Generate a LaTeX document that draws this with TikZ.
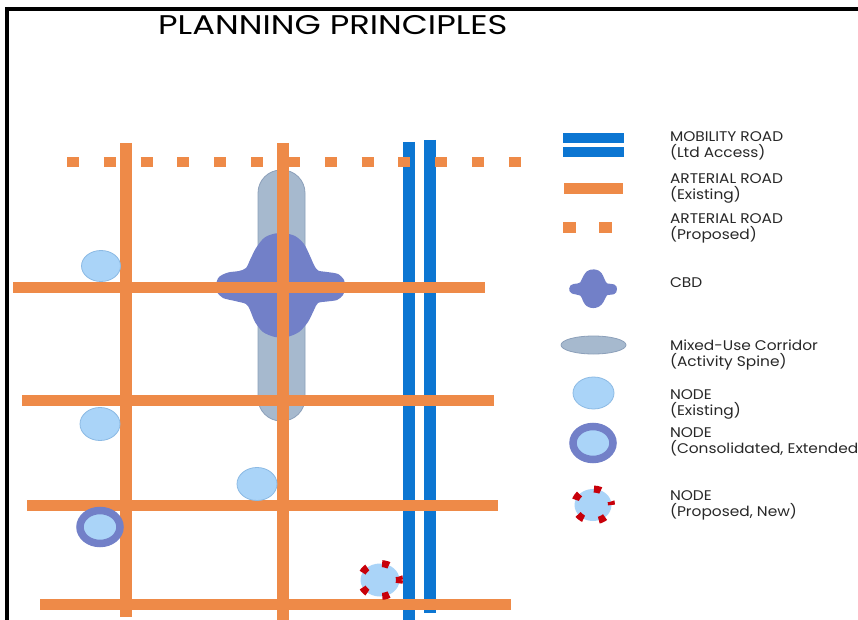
\documentclass[tikz,border=0pt]{standalone}
\usepackage{fontspec}
\setmainfont{Poppins}[FakeStretch=1.1]
\newfontfamily\titlefont{Poppins}[FakeStretch=1.25]
\usetikzlibrary{positioning, shapes.geometric}

\definecolor{arterial}{RGB}{238,138,72}
\definecolor{mobility}{RGB}{12,118,210}
\definecolor{spine}{RGB}{166,185,206}
\definecolor{spineedge}{RGB}{140,160,186}
\definecolor{cbdblue}{RGB}{114,128,200}
\definecolor{nodeblue}{RGB}{170,212,248}
\definecolor{nodeedge}{RGB}{140,186,228}
\definecolor{nodered}{RGB}{200,0,10}
\definecolor{legendtext}{RGB}{40,40,40}

% outline of the CBD blob, centred on the origin
\newcommand{\cbdblob}{plot[smooth cycle, tension=0.5] coordinates {
  (0,-53) (12,-50) (21,-42) (27,-30) (31,-21) (35,-15.5) (44,-14) (55,-12)
  (61,-6) (62,1) (60,9) (54,14) (44,15.5) (35,17) (31,24) (25,36) (16,46)
  (4,51) (-8,51) (-20,46) (-28,36) (-33,24) (-37,18) (-48,15) (-60,12)
  (-66,6) (-67,-1) (-64,-9) (-55,-13.5) (-44,-15) (-37,-18) (-33,-26)
  (-27,-38) (-19,-48) (-10,-52)}}

\begin{document}
\begin{tikzpicture}[
    x=1pt, y=-1pt,
    road/.style={draw=arterial, line width=11},
    proposedroad/.style={draw=arterial, line width=10, dash pattern=on 12 off 24.83},
    mobroad/.style={draw=mobility, line width=12},
    cbd/.style={fill=cbdblue},
    corridor/.style={fill=spine, draw=spineedge, line width=0.8},
    exnode/.style={ellipse, fill=nodeblue, draw=nodeedge, line width=0.8, inner sep=0, minimum width=40, minimum height=33},
    consnode/.style={ellipse, fill=nodeblue, draw=cbdblue, line width=7.5, inner sep=0, minimum width=40, minimum height=33},
    newnode/.style={ellipse, fill=nodeblue, draw=nodered, line width=7, dash pattern=on 7 off 15.66, dash phase=3.5, inner sep=0, minimum width=39, minimum height=33},
    legtext/.style={font=\fontsize{14}{16}\selectfont, text=legendtext, inner xsep=0, inner ysep=1, outer sep=0, text height=10.5, text depth=3.5, anchor=north west},
  ]
  \useasboundingbox[fill=white] (0,0) rectangle (858,620);

  % frame
  \draw[line width=3.5] (5,9) -- (858,9);
  \draw[line width=4.5] (7,7) -- (7,620);

  \node[font=\titlefont\fontsize{27}{30}\selectfont, anchor=base west, inner sep=0] (title) at (158,35) {PLANNING PRINCIPLES};

  % activity spine and CBD
  \draw[corridor, rounded corners=23] (258,170) rectangle (305,421);
  \fill[cbd, shift={(283,286)}] \cbdblob;

  % mobility road
  \draw[mobroad] (409,142) -- (409,622);
  \draw[mobroad] (430,140) -- (430,613);

  % arterial roads
  \draw[proposedroad] (67,162) -- (521,162);
  \draw[road, line width=12] (126,143) -- (126,617);
  \draw[road, line width=12] (283,143) -- (283,622);
  \draw[road] (13,287) -- (485,287);
  \draw[road] (22,400) -- (494,400);
  \draw[road] (27,505) -- (498,505);
  \draw[road] (40,604.5) -- (511,604.5);

  % nodes
  \node[exnode, minimum width=39, minimum height=31] (n1) at (101,266) {};
  \node[exnode] (n2) at (100,424) {};
  \node[exnode] (n3) at (257,484) {};
  \node[consnode] (c1) at (100,527) {};
  \node[newnode] (p1) at (380,580) {};

  % legend
  \draw[mobroad, line width=10] (563,138) -- (624,138);
  \draw[mobroad, line width=10] (563,152.5) -- (624,152.5);
  \node[legtext, anchor=base west] (mob1) at (670,142) {MOBILITY ROAD};
  \node[legtext] (mob2) at (mob1.south west) {(Ltd Access)};

  \draw[road] (564,188.5) -- (623,188.5);
  \node[legtext, anchor=base west] (art1) at (670,184) {ARTERIAL ROAD};
  \node[legtext] (art2) at (art1.south west) {(Existing)};

  \draw[proposedroad, line width=11, dash pattern=on 13 off 23] (563,227.5) -- (612,227.5);
  \node[legtext, anchor=base west] (prop1) at (670,223) {ARTERIAL ROAD};
  \node[legtext] (prop2) at (prop1.south west) {(Proposed)};

  \fill[cbd, shift={(594,289)}, scale=0.37] \cbdblob;
  \node[legtext, anchor=base west] (cbdlabel) at (670,287) {CBD};

  \draw[corridor] (593.5,345) ellipse [x radius=32.5, y radius=9];
  \node[legtext, anchor=base west] (spine1) at (670,350) {Mixed-Use Corridor};
  \node[legtext] (spine2) at (spine1.south west) {(Activity Spine)};

  \node[exnode, minimum width=41, minimum height=32] (legex) at (593.5,393) {};
  \node[legtext, anchor=base west] (ex1) at (670,399) {NODE};
  \node[legtext] (ex2) at (ex1.south west) {(Existing)};

  \node[consnode] (legcons) at (593,443) {};
  \node[legtext, anchor=base west] (cons1) at (670,437) {NODE};
  \node[legtext] (cons2) at (cons1.south west) {(Consolidated, Extended)};

  \node[newnode, minimum width=37, minimum height=32] (legnew) at (593,505) {};
  \node[legtext, anchor=base west] (new1) at (670,500) {NODE};
  \node[legtext] (new2) at (new1.south west) {(Proposed, New)};

\end{tikzpicture}
\end{document}
